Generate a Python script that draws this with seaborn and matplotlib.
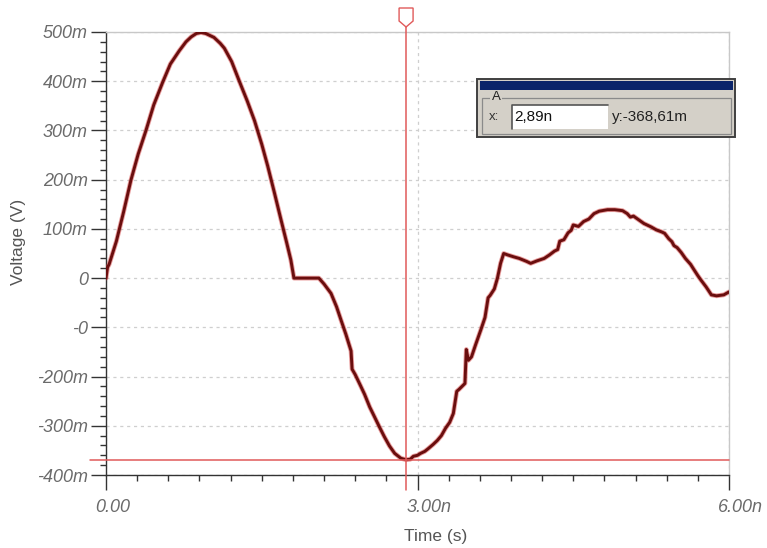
import matplotlib
matplotlib.use("Agg")
import matplotlib.pyplot as plt
import matplotlib.transforms as mtransforms
from matplotlib.patches import Rectangle, Polygon
from matplotlib.ticker import MultipleLocator
import pandas as pd
import seaborn as sns

# ---------------- data (time in ns, voltage in mV) ----------------
time_ns = [0.00, 0.015, 0.03, 0.10, 0.17, 0.24, 0.31, 0.385, 0.46, 0.546, 0.62, 0.706, 0.77,
           0.82, 0.87, 0.915, 0.96, 1.04, 1.10, 1.14, 1.21, 1.284, 1.36, 1.43, 1.50,
           1.557, 1.62, 1.686, 1.74, 1.78, 1.81, 1.87, 1.95, 2.05, 2.10, 2.167, 2.22,
           2.263, 2.31, 2.36, 2.37, 2.40, 2.45, 2.49, 2.54, 2.584, 2.63, 2.68, 2.73,
           2.78, 2.84, 2.89, 2.93, 2.96, 3.00, 3.03, 3.07, 3.10, 3.15, 3.19, 3.23,
           3.27, 3.31, 3.345, 3.378, 3.40, 3.457, 3.47, 3.49, 3.52, 3.56, 3.61, 3.65,
           3.68, 3.70, 3.74, 3.77, 3.80, 3.83, 3.87, 3.93, 3.98, 4.05, 4.09, 4.15,
           4.22, 4.27, 4.32, 4.35, 4.37, 4.41, 4.45, 4.48, 4.50, 4.55, 4.60, 4.65,
           4.70, 4.75, 4.83, 4.90, 4.975, 5.02, 5.05, 5.08, 5.12, 5.18, 5.25, 5.30,
           5.35, 5.38, 5.42, 5.45, 5.47, 5.50, 5.54, 5.58, 5.63, 5.66, 5.70, 5.73,
           5.78, 5.83, 5.88, 5.95, 6.00]
voltage_mv = [0, 22, 28, 75, 135, 199, 252, 300, 352, 398, 435, 462, 480,
              490, 497, 499, 497, 489, 477, 467, 440, 400, 360, 320, 272,
              228, 175, 118, 72, 37, 0, 0, 0, 0, -12, -31, -58,
              -85, -114, -148, -185, -196, -218, -236, -262, -281, -301, -322, -341,
              -356, -366, -369, -368, -362, -360, -356, -352, -347, -338, -330, -320,
              -305, -293, -275, -230, -226, -214, -145, -167, -160, -135, -105, -80,
              -40, -35, -22, 0, 30, 50, 47, 43, 40, 34, 30, 35,
              40, 47, 55, 58, 75, 78, 92, 97, 108, 105, 115, 120,
              131, 136, 139, 139, 137, 131, 124, 126, 120, 111, 104, 98,
              94, 91, 80, 74, 66, 62, 52, 40, 28, 18, 5, -4,
              -18, -34, -36, -34, -28]

y_ticks = [-400, -300, -200, -100, 0, 100, 200, 300, 400, 500]
y_tick_labels = ["-400m", "-300m", "-200m", "-0", "0", "100m", "200m", "300m", "400m", "500m"]
x_ticks = [0, 3, 6]
x_tick_labels = ["0.00", "3.00n", "6.00n"]
x_label = "Time (s)"
y_label = "Voltage (V)"

cursor_label = "a"
cursor_x = 2.89
cursor_y = -368.61
readout_group = "A"
readout_xname = "x:"
readout_xval = "2,89n"
readout_yval = "y:-368,61m"

# ---------------- style ----------------
sns.set_style("white")
plt.rcParams["font.family"] = ["Liberation Sans", "DejaVu Sans"]

W, H = 767, 548
fig = plt.figure(figsize=(W / 100, H / 100), dpi=100)


def fx(x):
    return x / W


def fy(y):
    return 1 - y / H


AX_L, AX_R, AX_T, AX_B = 106, 729, 32, 475
ax = fig.add_axes([fx(AX_L), fy(AX_B), (AX_R - AX_L) / W, (AX_B - AX_T) / H])

df = pd.DataFrame({"t": time_ns, "v": voltage_mv})

# curve: light red halo + dark red core
sns.lineplot(data=df, x="t", y="v", ax=ax, sort=False, estimator=None,
             color="#d23a3a", linewidth=3.4, alpha=0.5, zorder=3)
sns.lineplot(data=df, x="t", y="v", ax=ax, sort=False, estimator=None,
             color="#6a0e0e", linewidth=2.1, zorder=4)

ax.set_xlim(0, 6)
ax.set_ylim(-400, 500)

ax.set_yticks(y_ticks)
ax.set_yticklabels(y_tick_labels)
ax.set_xticks(x_ticks)
ax.set_xticklabels(x_tick_labels)
ax.xaxis.set_minor_locator(MultipleLocator(0.3))
ax.yaxis.set_minor_locator(MultipleLocator(20))

ax.grid(True, which="major", linestyle=(0, (2.5, 3)), color="#cfcfcf", linewidth=0.9)
ax.set_axisbelow(True)

tick_col = "#333333"
ax.tick_params(axis="both", which="both", bottom=True, left=True, top=False, right=False)
ax.tick_params(axis="both", which="major", direction="out", length=11, width=1,
               color=tick_col, labelsize=13, labelcolor="#6b6b6b")
ax.tick_params(axis="y", which="major", pad=2)
ax.tick_params(axis="x", which="major", pad=6)
ax.tick_params(axis="both", which="minor", direction="out", length=4, width=1,
               color=tick_col)

for lbl in ax.get_yticklabels():
    lbl.set_fontstyle("italic")
offset = mtransforms.ScaledTranslation(-11 / 100, 0, fig.dpi_scale_trans)
for lbl in ax.get_xticklabels():
    lbl.set_fontstyle("italic")
    lbl.set_horizontalalignment("left")
    lbl.set_transform(lbl.get_transform() + offset)

for side in ["left", "bottom"]:
    ax.spines[side].set_color(tick_col)
    ax.spines[side].set_linewidth(1)
for side in ["top", "right"]:
    ax.spines[side].set_color("#c8c8c8")
    ax.spines[side].set_linewidth(1)

ax.set_xlabel(x_label, fontsize=12.5, color="#555555")
ax.set_ylabel(y_label, fontsize=12.5, color="#555555")
ax.xaxis.label.set_va("center")
ax.yaxis.label.set_va("center")
ax.xaxis.set_label_coords((436 - AX_L) / (AX_R - AX_L), (AX_B - 537) / (AX_B - AX_T))
ax.yaxis.set_label_coords((18.5 - AX_L) / (AX_R - AX_L), (AX_B - 242) / (AX_B - AX_T))

# ---------------- cursor ----------------
cur_col = "#e05a5a"
ax.plot([(90 - AX_L) / (AX_R - AX_L), 1], [cursor_y, cursor_y],
        transform=ax.get_yaxis_transform(), color=cur_col, lw=1.1,
        clip_on=False, zorder=5)
ax.plot([cursor_x, cursor_x], [(AX_B - 490) / (AX_B - AX_T), (AX_B - 27) / (AX_B - AX_T)],
        transform=ax.get_xaxis_transform(), color=cur_col, lw=1.1,
        clip_on=False, zorder=5)

# cursor flag at top (position follows cursor_x)
cx = ax.transData.transform((cursor_x, 0))[0]  # pixels from left (dpi 100)
flag = Polygon([(fx(cx - 7), fy(8)), (fx(cx + 7), fy(8)), (fx(cx + 7), fy(21)),
                (fx(cx), fy(27)), (fx(cx - 7), fy(21))], closed=True,
               transform=fig.transFigure, facecolor="white", edgecolor=cur_col,
               linewidth=1.0, zorder=6)
fig.patches.append(flag)
fig.text(fx(cx), fy(15.5), cursor_label, ha="center", va="center",
         fontsize=9, color="#c04040")

# ---------------- readout box ----------------
def rect(x0, y0, x1, y1, **kw):
    r = Rectangle((fx(x0), fy(y1)), (x1 - x0) / W, (y1 - y0) / H,
                  transform=fig.transFigure, **kw)
    fig.patches.append(r)


rect(477, 79, 735, 137, facecolor="#d4d0c8", edgecolor="#404040", linewidth=1.4)
rect(479.5, 81.5, 732.5, 90, facecolor="#0a246a", edgecolor="none")
rect(482, 98, 731, 134, facecolor="none", edgecolor="#8a8a8a", linewidth=0.9)
rect(490, 93, 502, 102, facecolor="#d4d0c8", edgecolor="none")
fig.text(fx(496), fy(97.5), readout_group, ha="center", va="center",
         fontsize=9.5, color="#222222")
fig.text(fx(489), fy(117), readout_xname, ha="left", va="center",
         fontsize=9.5, color="#333333")
rect(512, 105, 608, 129, facecolor="white", edgecolor="none")
fig.add_artist(plt.Line2D([fx(512), fx(512), fx(608)], [fy(129), fy(105), fy(105)],
                          transform=fig.transFigure, color="#555555", lw=1.2))
fig.text(fx(514), fy(117), readout_xval, ha="left", va="center",
         fontsize=11, color="#111111")
fig.text(fx(612), fy(117), readout_yval, ha="left", va="center",
         fontsize=11, color="#222222")

fig.savefig("out.png", dpi=100)
